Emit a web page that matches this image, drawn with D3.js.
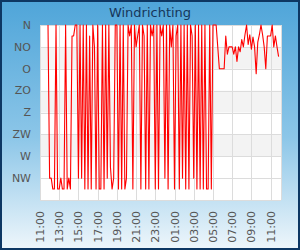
<!DOCTYPE html>
<meta charset="utf-8">
<style>
    body { margin: 0; }
    svg { font-family: "DejaVu Sans", sans-serif; }
    .grid line { stroke: #dcdcdc; stroke-width: 1; shape-rendering: crispEdges; }
    .axis text { fill: #555; font-size: 11px; }
</style>
<body>
<script src="https://cdn.jsdelivr.net/npm/d3@7"></script>
<script>
    const width = 300;
    const height = 250;
    const margin = {top: 25, right: 19, bottom: 50, left: 40};

    // compass labels and their degree positions
    const dirLabels = ["N", "NO", "O", "ZO", "Z", "ZW", "W", "NW"];
    const dirValues = [0, 45, 90, 135, 180, 225, 270, 315];

    const tickLabels = ["11:00", "13:00", "15:00", "17:00", "19:00", "21:00", "23:00",
        "01:00", "03:00", "05:00", "07:00", "09:00", "11:00"];

    // 10 minute samples starting 11:50
    const startTime = new Date(2024, 0, 1, 11, 50);
    const stepMinutes = 10;
    const direction = [
        0, 315, 315, 337.5, 337.5, 0, 337.5, 337.5, 315, 337.5, 337.5, 0, 337.5, 315, 337.5, 22.5,
        22.5, 0, 0, 315, 0, 315, 0, 337.5, 0, 337.5, 22.5, 337.5, 0, 45, 337.5, 0, 337.5,
        337.5, 0, 337.5, 0, 315, 0, 292.5, 337.5, 315, 0, 0, 337.5, 0, 337.5, 0, 337.5,
        315, 0, 22.5, 0, 337.5, 0, 45, 22.5, 0, 337.5, 0, 22.5, 337.5, 0, 337.5,
        0, 22.5, 0, 337.5, 0, 337.5, 0, 22.5, 0, 315, 0, 337.5, 0, 45, 0, 337.5, 22.5, 0,
        337.5, 0, 315, 0, 337.5, 0, 337.5, 0, 22.5, 315, 0, 337.5, 0, 337.5, 0, 337.5, 0,
        337.5, 337.5, 0, 337.5, 0, 0,
        0, 45, 90, 90, 90, 90, 22.5, 60, 45, 45, 45, 60, 45, 75, 45, 55, 30, 45, 20, 0,
        40, 20, 50, 25, 45, 100, 35, 20, 0, 20, 45, 90, 22.5, 22.5, 22.5, 0, 45, 22.5, 45, 65
    ];

    const data = direction.map((v, i) => ({
        t: new Date(startTime.getTime() + i * stepMinutes * 60000),
        v: v
    }));

    const svg = d3.select("body").append("svg")
        .attr("width", width)
        .attr("height", height);

    const defs = svg.append("defs");
    const grad = defs.append("linearGradient")
        .attr("id", "bg")
        .attr("x1", 0).attr("y1", 0).attr("x2", 0).attr("y2", 1);
    grad.append("stop").attr("offset", "0%").attr("stop-color", "#4fa5d9");
    grad.append("stop").attr("offset", "55%").attr("stop-color", "#8cc6e8");
    grad.append("stop").attr("offset", "100%").attr("stop-color", "#eef6fb");

    svg.append("rect")
        .attr("x", 1).attr("y", 1)
        .attr("width", width - 2).attr("height", height - 2)
        .attr("fill", "url(#bg)")
        .attr("stroke", "#0d3763")
        .attr("stroke-width", 2);

    svg.append("text")
        .attr("x", width / 2)
        .attr("y", 17)
        .attr("text-anchor", "middle")
        .attr("fill", "#16365a")
        .style("font-size", "13px")
        .text("Windrichting");

    const x = d3.scaleTime()
        .domain([new Date(2024, 0, 1, 11, 0), new Date(2024, 0, 2, 12, 5)])
        .range([margin.left, width - margin.right]);

    const y = d3.scaleLinear()
        .domain([0, 360])
        .range([margin.top, height - margin.bottom]);

    const xTicks = d3.range(tickLabels.length)
        .map(i => new Date(2024, 0, 1, 11 + i * 2, 0));

    // plot background with alternating bands
    const plot = svg.append("g");
    plot.append("rect")
        .attr("x", x.range()[0]).attr("y", y(0))
        .attr("width", x.range()[1] - x.range()[0])
        .attr("height", y(360) - y(0))
        .attr("fill", "#fff");

    plot.selectAll(".band")
        .data([45, 135, 225])
        .enter().append("rect")
        .attr("class", "band")
        .attr("x", x.range()[0])
        .attr("y", d => y(d))
        .attr("width", x.range()[1] - x.range()[0])
        .attr("height", d => y(d + 45) - y(d))
        .attr("fill", "#f3f3f3");

    const grid = svg.append("g").attr("class", "grid");
    grid.selectAll(".hl")
        .data(dirValues.concat([360]))
        .enter().append("line")
        .attr("x1", x.range()[0]).attr("x2", x.range()[1])
        .attr("y1", d => Math.round(y(d)) + 0.5)
        .attr("y2", d => Math.round(y(d)) + 0.5);
    grid.selectAll(".vl")
        .data(xTicks.concat([x.domain()[1]]))
        .enter().append("line")
        .attr("x1", d => Math.round(x(d)) + 0.5)
        .attr("x2", d => Math.round(x(d)) + 0.5)
        .attr("y1", y(0)).attr("y2", y(360));

    // y labels
    svg.append("g").attr("class", "axis")
        .selectAll("text")
        .data(dirValues)
        .enter().append("text")
        .attr("x", 31)
        .attr("y", d => y(d))
        .attr("dy", "0.35em")
        .attr("text-anchor", "end")
        .text((d, i) => dirLabels[i]);

    // x labels, rotated
    svg.append("g").attr("class", "axis")
        .selectAll("text")
        .data(xTicks)
        .enter().append("text")
        .attr("transform", d => "translate(" + (x(d) + 4) + "," + 211 + ") rotate(-90)")
        .attr("text-anchor", "end")
        .text((d, i) => tickLabels[i]);

    const line = d3.line()
        .x(d => x(d.t))
        .y(d => y(d.v));

    svg.append("path")
        .datum(data)
        .attr("fill", "none")
        .attr("stroke", "#ff0000")
        .attr("stroke-width", 1.1)
        .attr("stroke-linejoin", "round")
        .attr("d", line);
</script>
</body>
</html>
